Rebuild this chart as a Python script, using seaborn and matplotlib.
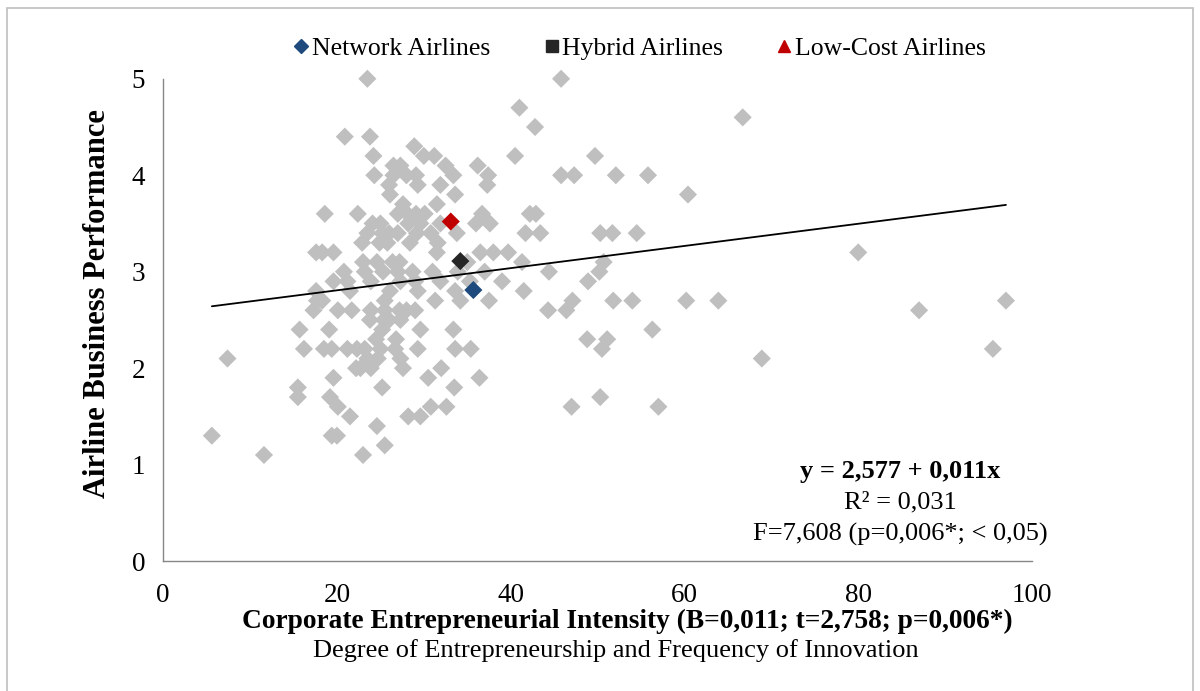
import numpy as np
import pandas as pd
import seaborn as sns
import matplotlib.pyplot as plt
from matplotlib.lines import Line2D
from matplotlib.patches import Rectangle

# gray sample points (Corporate Entrepreneurial Intensity, Business Performance)
ce_intensity = [
    23.5, 45.8,
    41.0, 66.7, 42.8,
    20.9, 23.8, 28.9,
    24.2, 30.0, 31.2, 40.5, 49.7,
    27.3, 32.5, 36.2, 26.5,
    24.3, 26.5, 28.0, 29.1, 33.4, 37.4, 45.8, 47.3, 52.1, 55.8,
    26.0, 29.3, 31.9, 37.3,
    26.1, 33.6, 60.4,
    27.6, 31.5,
    18.6, 22.4, 28.1, 29.1, 30.1, 36.7, 42.2, 42.9, 27.0,
    24.1, 25.0, 28.2, 29.6, 31.9, 37.6, 36.0,
    23.5, 25.2, 27.0, 29.2, 30.8, 33.8, 41.7, 43.4, 50.3, 51.7, 54.5, 26.0,
    22.9, 24.9, 28.4, 31.6, 25.8,
    17.6, 18.3, 19.6, 31.5, 38.0, 39.7, 80.0, 36.5,
    24.6, 26.4, 27.2, 35.0, 41.3, 50.7, 23.0,
    20.8, 23.2, 25.3, 28.7, 31.0, 33.9, 37.0, 44.4, 50.2, 27.0,
    19.6, 21.2, 23.9, 27.3, 29.0, 31.9, 35.3, 39.0, 48.9,
    17.6, 21.5, 26.1, 29.3, 33.6, 41.5,
    17.7, 18.3, 25.5, 31.3, 34.2, 37.5, 47.1, 51.8, 54.0, 60.2, 63.9, 97.0,
    17.3, 21.7, 25.5, 27.2, 29.0, 44.3, 46.4, 87.0, 23.9, 28.0, 20.1,
    23.8, 25.4, 27.3, 26.0,
    15.7, 19.1, 25.2, 29.6, 33.4, 56.3,
    24.5, 26.8, 48.8, 51.1,
    16.2, 19.4, 21.2, 22.3, 23.2, 25.0, 26.7, 29.3, 33.6, 35.4, 50.5, 95.5, 18.5,
    7.4, 23.5, 24.7, 27.3, 68.9,
    22.2, 23.9, 27.6, 32.0, 22.7,
    19.6, 30.5, 36.4,
    15.5, 25.2, 33.5,
    15.5, 19.2, 50.3,
    20.1, 30.8, 32.6, 47.0, 57.0,
    21.5, 28.2, 29.6,
    24.6,
    5.6, 19.4, 20.0,
    25.5,
    11.6, 23.0,
]
performance = (
    [5.0] * 2 + [4.7, 4.6, 4.5] + [4.4] * 2 + [4.3] + [4.2] * 5 + [4.1] * 4
    + [4.0] * 10 + [3.9] * 4 + [3.8] * 3 + [3.7] * 2 + [3.6] * 9 + [3.5] * 7
    + [3.4] * 12 + [3.3] * 5 + [3.2] * 8 + [3.1] * 7 + [3.0] * 10 + [2.9] * 9
    + [2.8] * 6 + [2.7] * 12 + [2.6] * 11 + [2.5] * 4 + [2.4] * 6 + [2.3] * 4
    + [2.2] * 13 + [2.1] * 5 + [2.0] * 5 + [1.9] * 3 + [1.8] * 3 + [1.7] * 3
    + [1.6] * 5 + [1.5] * 3 + [1.4] + [1.3] * 3 + [1.2] + [1.1] * 2
)

# group means
groups = ["Network Airlines", "Hybrid Airlines", "Low-Cost Airlines"]
group_x = [35.7, 34.2, 33.1]
group_y = [2.81, 3.11, 3.52]
group_colors = ["#1F4A7E", "#262626", "#C00000"]
legend_markers = ["D", "s", "^"]

# regression
intercept, slope = 2.577, 0.0115

sns.set_style("white")
plt.rcParams["font.family"] = ["Liberation Serif", "DejaVu Serif"]
plt.rcParams["text.color"] = "black"

df = pd.DataFrame({"x": ce_intensity, "y": performance})
df_groups = pd.DataFrame({"x": group_x, "y": group_y, "group": groups})

fig = plt.figure(figsize=(12, 6.91), dpi=100)
ax = fig.add_axes([0.136, 0.188, 0.724, 0.698])

sns.scatterplot(data=df, x="x", y="y", ax=ax, marker="D", s=85,
                color="#BFBFBF", edgecolor="none", linewidth=0, legend=False,
                clip_on=False)

line_x = np.array([min(ce_intensity), max(ce_intensity)])
ax.plot(line_x, intercept + slope * line_x, color="black", lw=1.3, zorder=3)

sns.scatterplot(data=df_groups, x="x", y="y", hue="group", palette=group_colors,
                ax=ax, marker="D", s=85, edgecolor="none", linewidth=0,
                legend=False, zorder=4)

ax.set_xlim(0, 100)
ax.set_ylim(0, 5)
ax.set_xticks([0, 20, 40, 60, 80, 100])
ax.set_yticks([0, 1, 2, 3, 4, 5])
for s in ["top", "right"]:
    ax.spines[s].set_visible(False)
for s in ["left", "bottom"]:
    ax.spines[s].set_color("#868686")
    ax.spines[s].set_linewidth(1.0)
ax.tick_params(axis="both", which="both", direction="out", length=6,
               color="#868686", labelsize=19.5, labelcolor="black", pad=7)
ax.tick_params(axis="x", length=8, pad=8)
ax.set_xlabel("")
ax.set_ylabel("")

fig.text(0.081, 0.561, "Airline Business Performance", rotation=90,
         ha="center", va="center", fontsize=22, fontweight="bold")
fig.text(0.523, 0.100, "Corporate Entrepreneurial Intensity (B=0,011; t=2,758; p=0,006*)",
         ha="center", va="center", fontsize=19.7, fontweight="bold")
fig.text(0.513, 0.059, "Degree of Entrepreneurship and Frequency of Innovation",
         ha="center", va="center", fontsize=19)

ax.text(0.848, 0.185, "y = 2,577 + 0,011x", transform=ax.transAxes, ha="center",
        va="center", fontsize=19, fontweight="bold")
ax.text(0.848, 0.122, "R² = 0,031", transform=ax.transAxes, ha="center",
        va="center", fontsize=19)
ax.text(0.848, 0.056, "F=7,608 (p=0,006*; < 0,05)", transform=ax.transAxes,
        ha="center", va="center", fontsize=19)

handles = [Line2D([], [], marker=m, color=c, linestyle="none", markersize=ms)
           for m, c, ms in zip(legend_markers, group_colors, [7, 8, 8])]
fig.legend(handles, groups, loc="center", bbox_to_anchor=(0.532, 0.93), ncol=3,
           frameon=False, fontsize=18.5, handletextpad=0.0, columnspacing=2.0,
           handlelength=0.8, labelcolor="black")

fig.add_artist(Rectangle((0.006, -0.01), 0.988, 0.998, transform=fig.transFigure,
                         fill=False, edgecolor="#BFBFBF", lw=1.2))

fig.savefig("out.png", dpi=100)
